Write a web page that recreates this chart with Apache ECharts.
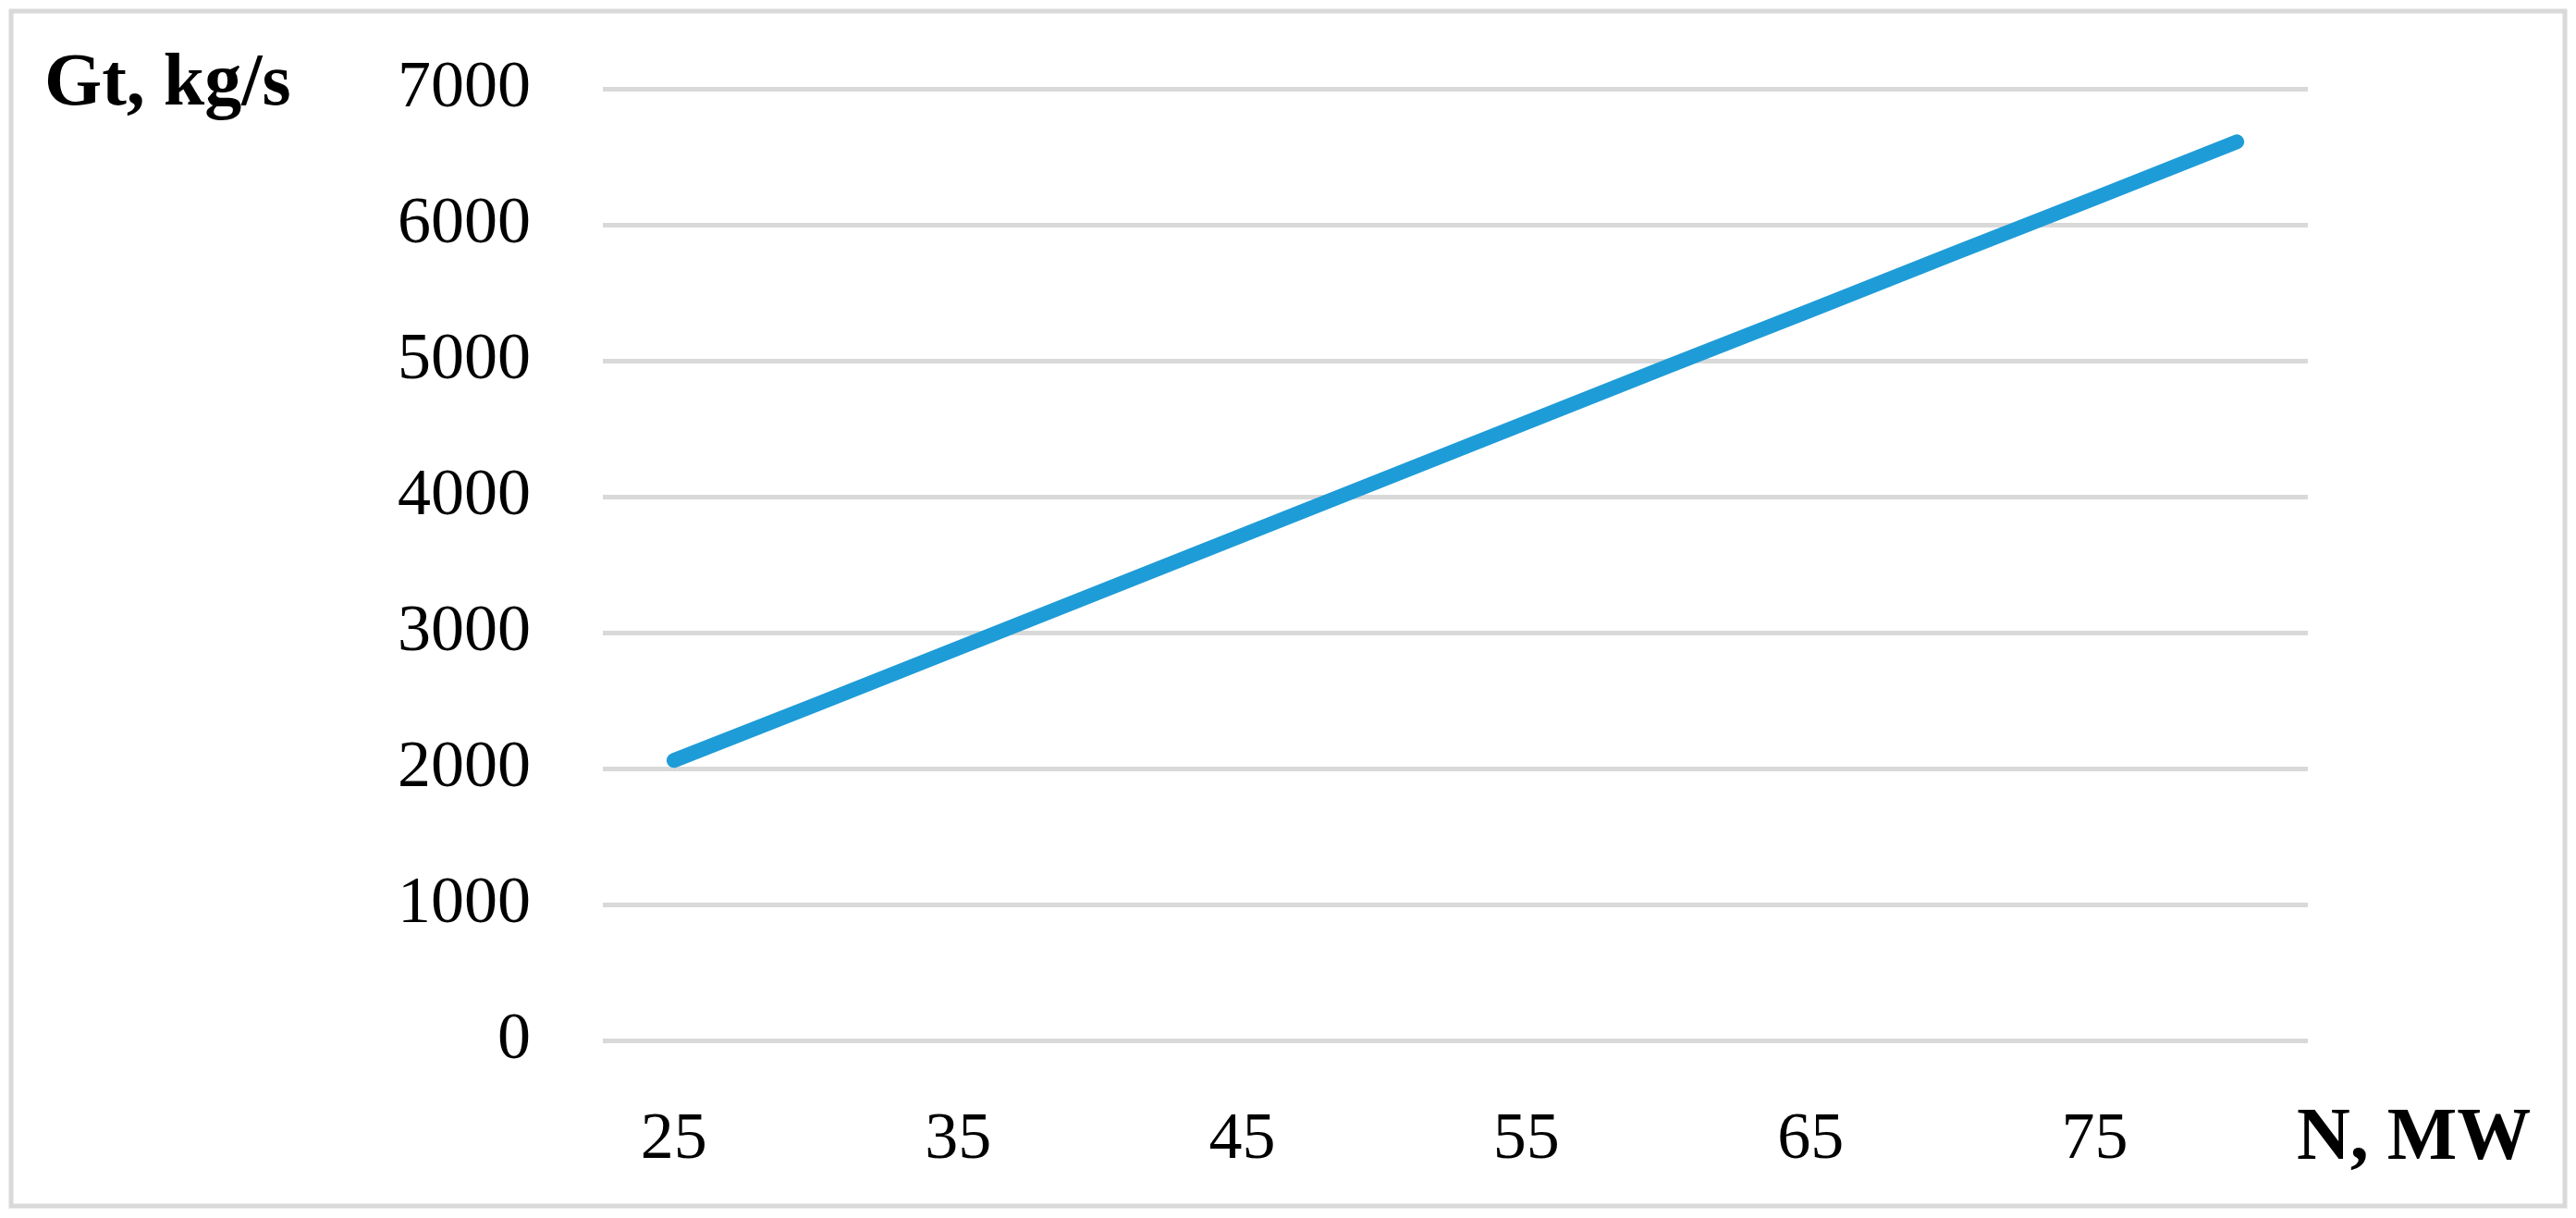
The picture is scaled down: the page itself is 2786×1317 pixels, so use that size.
<!DOCTYPE html>
<html>
<head>
<meta charset="utf-8">
<script src="https://cdn.jsdelivr.net/npm/echarts@6/dist/echarts.min.js"></script>
<style>
  html, body { margin: 0; padding: 0; background: #fff; }
  #chart { width: 2786px; height: 1317px; }
</style>
</head>
<body>
<div id="chart"></div>
<script>
// N, MW
const powerList = ['25', '30', '35', '40', '45', '50', '55', '60', '65', '70', '75', '80'];
// Gt, kg/s
const flowList = [2060, 2470, 2885, 3300, 3715, 4130, 4545, 4960, 5370, 5785, 6195, 6610];
const yTicks = { min: 0, max: 7000, step: 1000 };

const fontFamily = '"Liberation Serif", "Times New Roman", serif';

const myChart = echarts.init(document.getElementById('chart'), null, { renderer: 'canvas' });

const option = {
  backgroundColor: '#fff',
  animation: false,
  grid: {
    left: 652,
    right: 290,
    top: 96,
    bottom: 192
  },
  graphic: [
    {
      // outer frame
      type: 'rect',
      shape: { x: 12, y: 12, width: 2762, height: 1292 },
      style: { fill: 'none', stroke: '#d9d9d9', lineWidth: 5 }
    },
    {
      type: 'text',
      left: 48,
      top: 52,
      style: {
        text: 'Gt, kg/s',
        font: 'bold 80px ' + fontFamily,
        fill: '#000'
      }
    },
    {
      type: 'text',
      left: 2484,
      top: 1192,
      style: {
        text: 'N, MW',
        font: 'bold 80px ' + fontFamily,
        fill: '#000'
      }
    }
  ],
  xAxis: {
    type: 'category',
    data: powerList,
    boundaryGap: true,
    axisLine: { show: false },
    axisTick: { show: false },
    splitLine: { show: false },
    axisLabel: {
      interval: 1,
      margin: 72,
      color: '#000',
      fontFamily: fontFamily,
      fontSize: 72
    }
  },
  yAxis: {
    type: 'value',
    min: yTicks.min,
    max: yTicks.max,
    interval: yTicks.step,
    axisLine: { show: false },
    axisTick: { show: false },
    splitLine: {
      lineStyle: { color: '#d9d9d9', width: 5 }
    },
    axisLabel: {
      margin: 78,
      color: '#000',
      fontFamily: fontFamily,
      fontSize: 72,
      formatter: (v) => String(v)
    }
  },
  series: [
    {
      name: 'Gt',
      type: 'line',
      data: flowList,
      symbol: 'none',
      lineStyle: {
        color: '#1e9cd7',
        width: 16,
        cap: 'round',
        join: 'round'
      }
    }
  ]
};

myChart.setOption(option);
</script>
</body>
</html>
